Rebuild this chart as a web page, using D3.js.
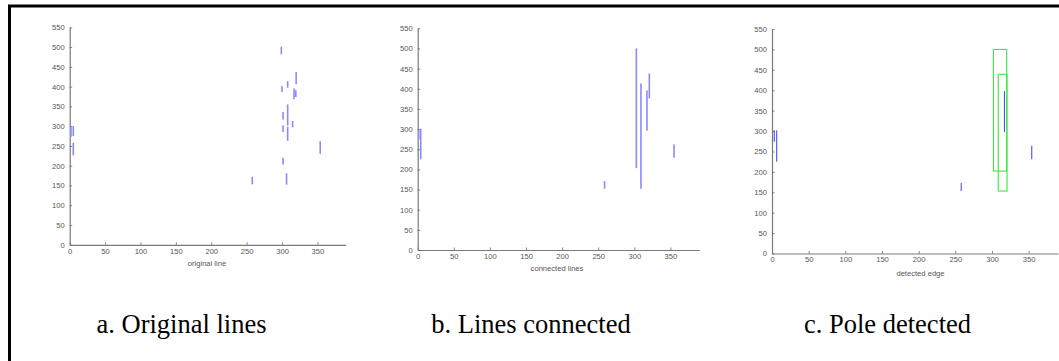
<!DOCTYPE html>
<html><head><meta charset="utf-8">
<script src="https://cdn.jsdelivr.net/npm/d3@7"></script>
<style>
html,body{margin:0;padding:0;background:#fff;overflow:hidden;}
svg{display:block;}
.tick text{font-family:"Liberation Sans",Arial,sans-serif;}
</style></head>
<body>
<svg id="c" width="1059" height="361"></svg>
<script>
// ---- data ----
const xTicks = [0, 50, 100, 150, 200, 250, 300, 350];
const yTicks = [0, 50, 100, 150, 200, 250, 300, 350, 400, 450, 500, 550];
const xMax = 390, yMax = 550;

const axisLabels = ["original line", "connected lines", "detected edge"];
const captions = ["a. Original lines", "b. Lines connected", "c. Pole detected"];

// segments: [x, yStart, yEnd]
const originalLines = [
  [299, 482, 501], [320, 406, 437], [308, 397, 414], [300, 386, 401],
  [317, 368, 395], [319.5, 374, 391], [308, 302, 355], [301.5, 317, 336],
  [315, 297, 313], [301.5, 285, 302], [308, 263, 299], [354, 230, 262],
  [301.5, 203, 220], [306.4, 152, 181], [258, 153, 172],
  [1.8, 273, 300], [5.1, 275, 300], [5.1, 226, 258]
];
const connectedLines = [
  [302.8, 203, 500], [309.2, 152, 413], [317.5, 296, 396], [320.8, 376, 438],
  [355, 229, 262], [258.8, 152, 171], [1.4, 274, 297], [4.2, 225, 301]
];
const detectedLines = [
  [317, 297, 398], [354.2, 231, 264], [258, 153, 173], [3.1, 274, 302], [6.4, 225, 302]
];
// boxes: [x0, x1, y0, y1]
const detectedBoxes = [
  [302, 320, 202, 500], [308.5, 320.5, 153, 439]
];

// ---- layout ----
const panels = [
  {left: 69.7, top: 27.3, bottom: 244.8, right: 345.7, segs: originalLines, boxes: [],
   color: "#8a8aff", sw: 1.6, labelX: 207, labelY: 266, capX: 181.5},
  {left: 417.7, top: 28.3, bottom: 250, right: 699.3, segs: connectedLines, boxes: [],
   color: "#8a8aff", sw: 1.6, labelX: 557, labelY: 271, capX: 531},
  {left: 772, top: 29, bottom: 253.5, right: 1058, segs: detectedLines, boxes: detectedBoxes,
   color: "#4a4aff", sw: 1.1, labelX: 920.5, labelY: 276, capX: 887.5}
];

const svg = d3.select("#c");
svg.append("rect").attr("x", 0).attr("y", 0).attr("width", 1059).attr("height", 361).attr("fill", "#fff");
// outer frame (extends beyond the right/bottom edges)
svg.append("rect").attr("x", 9.5).attr("y", 6).attr("width", 1100).attr("height", 400)
  .attr("fill", "none").attr("stroke", "#000").attr("stroke-width", 3);

panels.forEach((p, i) => {
  const x = d3.scaleLinear().domain([0, xMax]).range([p.left, p.right]);
  const y = d3.scaleLinear().domain([0, yMax]).range([p.bottom, p.top]);
  const g = svg.append("g");

  const xAxis = g.append("g").attr("transform", `translate(0,${p.bottom})`)
    .call(d3.axisBottom(x).tickValues(xTicks).tickSizeInner(-2.5).tickSizeOuter(0).tickPadding(5));
  const yAxis = g.append("g").attr("transform", `translate(${p.left},0)`)
    .call(d3.axisLeft(y).tickValues(yTicks).tickSizeInner(-2.5).tickSizeOuter(0).tickPadding(5));
  [xAxis, yAxis].forEach(a => {
    a.select(".domain").attr("stroke", "#7a7a7a").attr("stroke-width", 1.2);
    a.selectAll(".tick line").attr("stroke", "#666").attr("stroke-width", 0.8);
    a.selectAll(".tick text").attr("fill", "#555").attr("font-size", 7.6);
  });
  xAxis.selectAll(".tick text").attr("dy", "0.5em");

  g.append("text").attr("x", p.labelX).attr("y", p.labelY)
    .attr("text-anchor", "middle").attr("font-family", "Liberation Sans, Arial, sans-serif")
    .attr("font-size", 7.6).attr("fill", "#555").text(axisLabels[i]);

  g.selectAll("line.seg").data(p.segs).join("line").attr("class", "seg")
    .attr("x1", d => x(d[0])).attr("x2", d => x(d[0]))
    .attr("y1", d => y(d[1])).attr("y2", d => y(d[2]))
    .attr("stroke", p.color).attr("stroke-width", p.sw);

  g.selectAll("rect.box").data(p.boxes).join("rect").attr("class", "box")
    .attr("x", d => x(d[0])).attr("width", d => x(d[1]) - x(d[0]))
    .attr("y", d => y(d[3])).attr("height", d => y(d[2]) - y(d[3]))
    .attr("fill", "none").attr("stroke", "#3fe83f").attr("stroke-width", 1.1);

  svg.append("text").attr("x", p.capX).attr("y", 333)
    .attr("text-anchor", "middle").attr("font-family", "Liberation Serif, Times New Roman, serif")
    .attr("font-size", 26.5).attr("fill", "#000").text(captions[i]);
});
</script>
</body></html>
